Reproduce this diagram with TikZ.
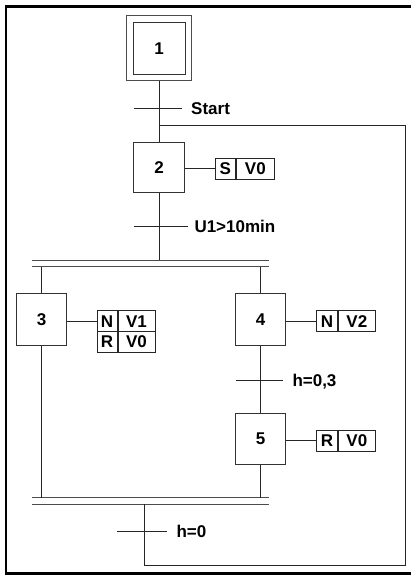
\documentclass[tikz,border=0pt]{standalone}
\usepackage{fontspec}
\setmainfont{Liberation Sans}
\begin{document}
\begin{tikzpicture}[x=1pt,y=-1pt,
  txt/.style={font=\bfseries\fontsize{17}{20}\selectfont},
  ln/.style={line width=0.8pt, draw=black!85},
  stepbox/.style={draw=black!80, line width=0.8pt, minimum width=51pt, minimum height=51pt, inner sep=0pt, txt},
  cell/.style={draw=black!85, line width=0.8pt, minimum height=21pt, inner sep=0pt, anchor=west, txt},
  lbl/.style={anchor=base west, inner sep=0pt, txt},
  bar/.style={line width=1.2pt, draw=black!70},
  frame/.style={line width=2.2pt, draw=black}]
\useasboundingbox (0,0) rectangle (411,575);
% frame
\draw[frame] (413,6.5) -- (5.8,6.5) -- (5.8,573.5) -- (413,573.5);
% steps
\node[stepbox, minimum width=51.7pt, minimum height=51.3pt] (s1) at (159.2,48.3) {1};
\node[draw=black!70, line width=0.8pt, minimum width=65pt, minimum height=65pt, inner sep=0pt] (s1o) at (s1.center) {};
\node[stepbox, minimum height=50pt] (s2) at (159.2,167.3) {2};
\node[stepbox, minimum width=50pt, minimum height=52pt] (s3) at (41.5,319.2) {3};
\node[stepbox, minimum width=50pt, minimum height=52pt] (s4) at (260.5,319.2) {4};
\node[stepbox, minimum width=50pt, minimum height=51pt] (s5) at (260.5,438.7) {5};
% bars
\coordinate (d1l) at (32.3,260.3); \coordinate (d1r) at (269.3,260.3);
\coordinate (d2l) at (32.3,266.7); \coordinate (d2r) at (269.3,266.7);
\coordinate (c1l) at (32.3,497.7); \coordinate (c1r) at (269.3,497.7);
\coordinate (c2l) at (32.3,504.3); \coordinate (c2r) at (269.3,504.3);
\draw[bar] (d1l) -- (d1r);
\draw[bar] (d2l) -- (d2r);
\draw[bar] (c1l) -- (c1r);
\draw[bar] (c2l) -- (c2r);
% transitions
\coordinate (t1) at (159.2,108.3);
\coordinate (t2) at (159.2,226.7);
\coordinate (t3) at (260.5,380);
\coordinate (t4) at (144,531.7);
\coordinate (j1) at (159.2,125);
\coordinate (b1) at (144,565);
\coordinate (b2) at (405,565);
\coordinate (b3) at (405,125);
% main vertical links
\draw[ln] (s1o.south) -- (s2.north);
\draw[ln] (s2.south) -- (s2.south |- d1l);
\draw[ln] (s3.north |- d2l) -- (s3.north);
\draw[ln] (s4.north |- d2l) -- (s4.north);
\draw[ln] (s3.south) -- (s3.south |- c1l);
\draw[ln] (s4.south) -- (s5.north);
\draw[ln] (s5.south) -- (s5.south |- c1l);
\draw[ln] (t4 |- c2l) -- (b1) -- (b2) -- (b3) -- (j1);
% transition ticks
\draw[ln] ([xshift=-25.5pt]t1) -- ([xshift=22.5pt]t1);
\draw[ln] ([xshift=-25.5pt]t2) -- ([xshift=29pt]t2);
\draw[ln] ([xshift=-24.8pt]t3) -- ([xshift=22.2pt]t3);
\draw[ln] ([xshift=-26.7pt]t4) -- ([xshift=23.3pt]t4);
% transition labels
\node[lbl] (l1) at (191,114.4) {Start};
\node[lbl] (l2) at (194.3,232.8) {U1>10min};
\node[lbl] (l3) at (292.3,386.1) {h=0,3};
\node[lbl] (l4) at (176.3,537.8) {h=0};
% actions
\node[cell, minimum width=20pt] (a2a) at (215,168.8) {S};
\node[cell, minimum width=38.3pt] (a2b) at (a2a.east) {V0};
\draw[ln] (s2.east |- a2a.west) -- (a2a.west);
\node[cell, minimum width=20pt] (a3a) at (96.7,321.35) {N};
\node[cell, minimum width=37.3pt] (a3b) at (a3a.east) {V1};
\node[cell, minimum width=20pt] (a3c) at (96.7,342.0) {R};
\node[cell, minimum width=37.3pt] (a3d) at (a3c.east) {V0};
\draw[ln] (s3.east |- a3a.west) -- (a3a.west);
\node[cell, minimum width=21.3pt] (a4a) at (316,321.35) {N};
\node[cell, minimum width=36.7pt] (a4b) at (a4a.east) {V2};
\draw[ln] (s4.east |- a4a.west) -- (a4a.west);
\node[cell, minimum width=21.3pt] (a5a) at (316,440.5) {R};
\node[cell, minimum width=36.7pt] (a5b) at (a5a.east) {V0};
\draw[ln] (s5.east |- a5a.west) -- (a5a.west);
\end{tikzpicture}
\end{document}
